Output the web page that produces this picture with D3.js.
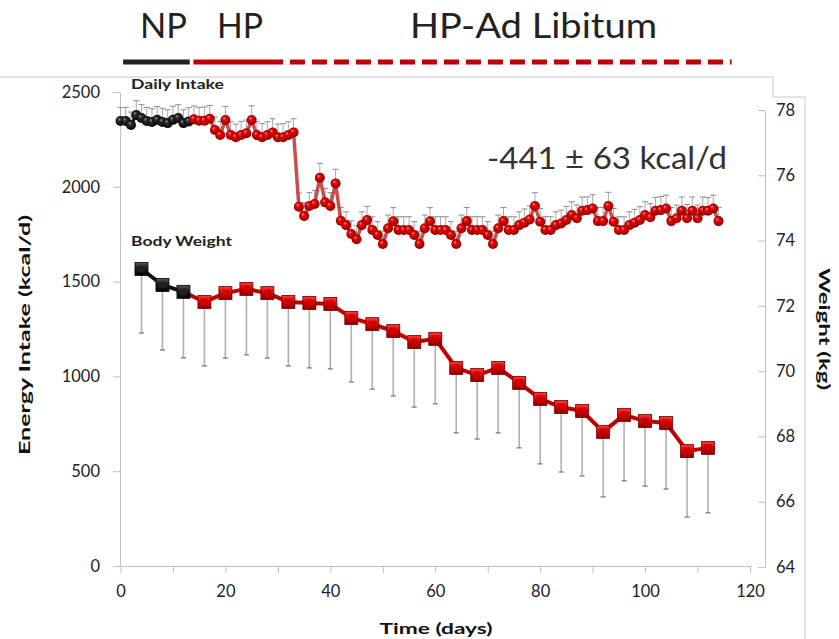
<!DOCTYPE html>
<html><head><meta charset="utf-8">
<script src="https://cdn.jsdelivr.net/npm/d3@7"></script>
<style>body{margin:0;background:#fff}svg{display:block}text{font-family:Lato,"Open Sans",sans-serif}</style>
</head><body><svg id="c" width="839" height="639"></svg>
<script>
// ---- data ----
const xTicks=[0,10,20,30,40,50,60,70,80,90,100,110,120];
const leftTicks=[0,500,1000,1500,2000,2500];
const rightTicks=[64,66,68,70,72,74,76,78];
const phaseNames=["NP","HP","HP-Ad Libitum"];
// daily energy intake (kcal/d), consecutive days from day 0
const intakeNP=[2347,2347,2326,2379,2363,2347,2342,2353,2342,2336,2353,2363,2336,2345];
const intakeHP=[2356,2349,2349,2359,2300,2273,2352,2273,2261,2273,2282,2352,2273,2261,2273,2287,2261,2261,2273,2287];
const intakeAdLib=[1895,1846,1899,1909,2048,1918,1899,2018,1821,1798,1751,1723,1798,1825,1772,1746,1698,1781,1818,1772,1772,1772,1746,1698,1781,1818,1772,1772,1772,1746,1698,
1781,1819,1772,1772,1772,1746,1698,1781,1819,1772,
1772,1798,1811,1828,1899,1816,1772,1772,1798,1807,
1825,1851,1834,1874,1877,1886,1819,1819,1899,1816,
1772,1772,1798,1811,1825,1851,1839,1874,1877,1886,
1819,1834,1874,1834,1874,1834,1874,1874,1886,1819];
const intakeSD=[
70,72,68,75,70,72,70,70,72,70,
72,70,70,72,70,70,72,70,68,72,
72,70,70,72,70,75,70,72,70,72,
70,72,70,72,72,70,70,72,76,74,
70,74,70,70,70,72,70,72,70,70,
68,70,72,70,70,70,70,68,70,72,
70,70,70,70,68,70,72,70,70,70,
70,68,70,72,70,70,70,72,72,70,
70,72,70,70,70,72,70,70,72,70,
72,72,72,72,70,70,70,70,70,70,
70,72,70,72,70,72,70,72,72,72,
70,72,70,70,72];
// body weight (kg)
const weightDays=[4,8,12,16,20,24,28,32,36,40,44,48,52,56,60,64,68,72,76,80,84,88,92,96,100,104,108,112];
const weightMean=[73.13,72.64,72.43,72.12,72.39,72.52,72.39,72.12,72.09,72.06,71.63,71.44,71.23,70.89,70.99,70.10,69.88,70.10,69.64,69.15,68.90,68.78,68.14,68.66,68.47,68.41,67.55,67.65];
const weightSD=[1.96,1.99,2.02,1.96,1.99,2.02,1.99,1.96,1.99,1.99,1.96,1.99,1.99,1.99,1.99,1.99,1.96,1.99,1.99,1.99,1.99,1.99,1.99,2.02,1.99,2.02,2.02,1.99];
const weightNPCount=3;

// ---- build ----
const intakeVals=intakeNP.concat(intakeHP,intakeAdLib);
const intake=intakeVals.map((v,i)=>({day:i,v:v,sd:intakeSD[i]||0,np:i<intakeNP.length}));
const weight=weightDays.map((d,i)=>({day:d,v:weightMean[i],sd:weightSD[i],np:i<weightNPCount}));

const svg=d3.select("#c");
const x=d3.scaleLinear().domain([0,120]).range([120.5,750]);
const yL=d3.scaleLinear().domain([0,2500]).range([566,92]);
const yR=d3.scaleLinear().domain([64,78]).range([567,110]);

const defs=svg.append("defs");
function rg(id,stops){const g=defs.append("radialGradient").attr("id",id).attr("cx","50%").attr("cy","50%").attr("r","55%").attr("fx","35%").attr("fy","30%");
 stops.forEach(s=>g.append("stop").attr("offset",s[0]).attr("stop-color",s[1]));}
rg("gRed",[["0%","#ff9a9a"],["30%","#e80808"],["75%","#b00000"],["100%","#6e0000"]]);
rg("gBlk",[["0%","#9a9a9a"],["30%","#303030"],["100%","#000"]]);
function lg(id,stops){const g=defs.append("linearGradient").attr("id",id).attr("x1",0).attr("y1",0).attr("x2",0).attr("y2",1);
 stops.forEach(s=>g.append("stop").attr("offset",s[0]).attr("stop-color",s[1]));}
lg("sqRed",[["0%","#ff3b3b"],["45%","#dd0000"],["100%","#8e0000"]]);
lg("sqBlk",[["0%","#555"],["45%","#1a1a1a"],["100%","#000"]]);

// frame
svg.append("path").attr("d","M0,77H773V97H805V639").attr("fill","none").attr("stroke","#c8c8c8").attr("stroke-width",1);

// header
const hdr=svg.append("g").attr("fill","#222").attr("font-size",34);
const hdrPos=[[140,47],[217,46],[410,247]];
phaseNames.forEach((n,i)=>hdr.append("text").attr("x",hdrPos[i][0]).attr("y",38).attr("textLength",hdrPos[i][1]).attr("lengthAdjust","spacingAndGlyphs").text(n));
svg.append("line").attr("x1",x(0.5)).attr("x2",x(13.2)).attr("y1",62).attr("y2",62).attr("stroke","#222").attr("stroke-width",5);
svg.append("line").attr("x1",x(13.9)).attr("x2",x(31)).attr("y1",62).attr("y2",62).attr("stroke","#c00000").attr("stroke-width",5);
svg.append("line").attr("x1",x(32.3)).attr("x2",x(116.5)).attr("y1",62).attr("y2",62).attr("stroke","#c00000").attr("stroke-width",5).attr("stroke-dasharray","15,7");

// axes
const axCol="#bfbfbf";
function style(g){g.selectAll("path,line").attr("stroke",axCol);g.selectAll("text").attr("fill","#222").attr("font-size",16.5).attr("font-family","Lato,'Open Sans',sans-serif");}
svg.append("g").attr("transform","translate(120,0)").call(d3.axisLeft(yL).tickValues(leftTicks).tickFormat(d3.format("d")).tickSize(7).tickSizeOuter(0).tickPadding(13)).call(style);
svg.append("g").attr("transform","translate(765,0)").call(d3.axisRight(yR).tickValues(rightTicks).tickFormat(d3.format("d")).tickSize(-7).tickSizeOuter(0).tickPadding(11)).call(style);
svg.append("g").attr("transform","translate(0,566)").call(d3.axisBottom(x).tickValues(xTicks).tickSize(7).tickSizeOuter(0).tickPadding(12).tickFormat(d=>d%20===0?d:"")).call(style);

// axis titles
svg.append("text").attr("transform","translate(30,335) rotate(-90)").attr("text-anchor","middle").attr("font-weight","bold").attr("font-size",16).attr("fill","#111").attr("textLength",240).attr("lengthAdjust","spacingAndGlyphs").text("Energy Intake (kcal/d)");
svg.append("text").attr("transform","translate(819,329) rotate(90)").attr("text-anchor","middle").attr("font-weight","bold").attr("font-size",16).attr("fill","#111").attr("textLength",122).attr("lengthAdjust","spacingAndGlyphs").text("Weight (kg)");
svg.append("text").attr("x",436).attr("y",634).attr("text-anchor","middle").attr("font-weight","bold").attr("font-size",16).attr("fill","#111").attr("textLength",113).attr("lengthAdjust","spacingAndGlyphs").text("Time (days)");

// annotations
svg.append("text").attr("x",131).attr("y",89).attr("font-weight","bold").attr("font-size",13).attr("fill","#222").attr("textLength",93).attr("lengthAdjust","spacingAndGlyphs").text("Daily Intake");
svg.append("text").attr("x",131).attr("y",246).attr("font-weight","bold").attr("font-size",14).attr("fill","#222").attr("textLength",101).attr("lengthAdjust","spacingAndGlyphs").text("Body Weight");
svg.append("text").attr("x",487).attr("y",169).attr("font-size",30).attr("fill","#333").attr("textLength",240).attr("lengthAdjust","spacingAndGlyphs").text("-441 ± 63 kcal/d");

// ---- body weight ----
const wg=svg.append("g");
wg.selectAll("line.eb").data(weight).join("line").attr("x1",d=>x(d.day)).attr("x2",d=>x(d.day)).attr("y1",d=>yR(d.v)).attr("y2",d=>yR(d.v-d.sd)).attr("stroke","#b0b0b0").attr("stroke-width",1.6);
wg.selectAll("line.cap").data(weight).join("line").attr("x1",d=>x(d.day)-2.5).attr("x2",d=>x(d.day)+2.5).attr("y1",d=>yR(d.v-d.sd)).attr("y2",d=>yR(d.v-d.sd)).attr("stroke","#888").attr("stroke-width",1.5);
const wl=d3.line().x(d=>x(d.day)).y(d=>yR(d.v));
wg.append("path").datum(weight.slice(weightNPCount-1)).attr("d",wl).attr("fill","none").attr("stroke","#c00000").attr("stroke-width",4).attr("stroke-linejoin","round");
wg.append("path").datum(weight.slice(0,weightNPCount)).attr("d",wl).attr("fill","none").attr("stroke","#111").attr("stroke-width",4).attr("stroke-linejoin","round");
const S=13;
wg.selectAll("rect.m").data(weight).join("rect").attr("x",d=>x(d.day)-S/2).attr("y",d=>yR(d.v)-S/2).attr("width",S).attr("height",S)
 .attr("fill",d=>d.np?"url(#sqBlk)":"url(#sqRed)").attr("stroke",d=>d.np?"#000":"#6a0000").attr("stroke-width",0.8);
wg.selectAll("rect.in").data(weight).join("rect").attr("x",d=>x(d.day)-S/2+3).attr("y",d=>yR(d.v)-S/2+3).attr("width",S-6).attr("height",S-6)
 .attr("fill",d=>d.np?"#222":"#c80000").attr("opacity",0.8);

// ---- daily intake ----
const ig=svg.append("g");
ig.selectAll("line.eb").data(intake).join("line").attr("x1",d=>x(d.day)).attr("x2",d=>x(d.day)).attr("y1",d=>yL(d.v)).attr("y2",d=>yL(d.v+d.sd)).attr("stroke","#a8a8a8").attr("stroke-width",1);
ig.selectAll("line.cap").data(intake).join("line").attr("x1",d=>x(d.day)-3).attr("x2",d=>x(d.day)+3).attr("y1",d=>yL(d.v+d.sd)).attr("y2",d=>yL(d.v+d.sd)).attr("stroke","#8a8a8a").attr("stroke-width",1);
const il=d3.line().x(d=>x(d.day)).y(d=>yL(d.v));
ig.append("path").datum(intake.slice(intakeNP.length-1)).attr("d",il).attr("fill","none").attr("stroke","#c0302f").attr("stroke-opacity",0.85).attr("stroke-width",3.5).attr("stroke-linejoin","round");
ig.append("path").datum(intake.slice(0,intakeNP.length)).attr("d",il).attr("fill","none").attr("stroke","#111").attr("stroke-width",3).attr("stroke-linejoin","round");
ig.selectAll("circle").data(intake).join("circle").attr("cx",d=>x(d.day)).attr("cy",d=>yL(d.v)).attr("r",5)
 .attr("fill",d=>d.np?"url(#gBlk)":"url(#gRed)");
</script></body></html>
